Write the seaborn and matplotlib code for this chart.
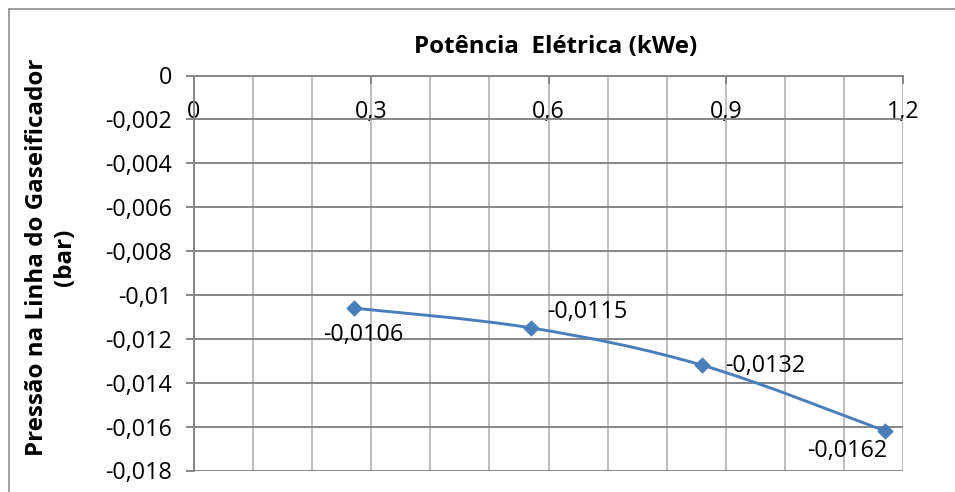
import numpy as np
import matplotlib
matplotlib.use("Agg")
import matplotlib.pyplot as plt
from matplotlib.path import Path
from matplotlib.patches import PathPatch
from matplotlib.lines import Line2D
from matplotlib.ticker import FuncFormatter, MultipleLocator
import seaborn as sns

# Data
potencia_kwe = [0.27, 0.57, 0.86, 1.17]
pressao_bar = [-0.0106, -0.0115, -0.0132, -0.0162]
x_ticks = [0, 0.3, 0.6, 0.9, 1.2]
y_ticks = [0, -0.002, -0.004, -0.006, -0.008, -0.01, -0.012, -0.014, -0.016, -0.018]

titulo = "Potência  Elétrica (kWe)"
rotulo_y = "Pressão na Linha do Gaseificador\n(bar)"

sns.set_theme(style="white")
plt.rcParams["font.family"] = ["Open Sans", "DejaVu Sans"]

BLUE = "#4A7EBB"
GRID_DARK = "#868686"
GRID_LIGHT = "#BEBEBE"
TICK_FS = 16.8
TITLE_FS = 17.4

W, H = 955, 492
fig = plt.figure(figsize=(W / 100, H / 100), dpi=100)
left, right, top, bottom = 194, 903, 75.5, 470.5
ax = fig.add_axes([left / W, (H - bottom) / H, (right - left) / W, (bottom - top) / H])


def virgula(v, _pos=None):
    if abs(v) < 1e-12:
        return "0"
    return f"{v:g}".replace(".", ",")


ax.set_xlim(0, 1.2)
ax.set_ylim(-0.018, 0)
ax.set_xticks(x_ticks)
ax.xaxis.set_minor_locator(MultipleLocator(0.1))
ax.set_yticks(y_ticks)
ax.xaxis.set_major_formatter(FuncFormatter(virgula))
ax.yaxis.set_major_formatter(FuncFormatter(virgula))

# Grid: light vertical lines every 0.1, darker horizontal lines
ax.grid(False)
ax.xaxis.grid(True, which="both", color=GRID_LIGHT, linewidth=1.4)
ax.yaxis.grid(True, which="major", color=GRID_DARK, linewidth=1.4)
ax.set_axisbelow(True)

for side in ["right", "bottom"]:
    ax.spines[side].set_visible(False)
for side in ["left", "top"]:
    ax.spines[side].set_color(GRID_DARK)
    ax.spines[side].set_linewidth(1.4)

# Horizontal axis sits at the top with labels drawn just inside the plot
ax.tick_params(axis="x", which="major", top=True, bottom=False, labeltop=True,
               labelbottom=False, direction="in", length=6, width=1.4,
               color=GRID_DARK, pad=-35, labelsize=TICK_FS, labelcolor="black")
ax.tick_params(axis="x", which="minor", top=False, bottom=False)
ax.tick_params(axis="y", which="major", left=True, direction="out", length=6,
               width=1.4, color=GRID_DARK, pad=10, labelsize=TICK_FS, labelcolor="black")

# Smoothed connecting line (Catmull-Rom as cubic Bezier segments)
pts = np.column_stack([potencia_kwe, pressao_bar])
ext = np.vstack([pts[0], pts, pts[-1]])
verts = [tuple(pts[0])]
codes = [Path.MOVETO]
for i in range(len(pts) - 1):
    p0, p1, p2, p3 = ext[i], ext[i + 1], ext[i + 2], ext[i + 3]
    c1 = p1 + (p2 - p0) / 6.0
    c2 = p2 - (p3 - p1) / 6.0
    verts += [tuple(c1), tuple(c2), tuple(p2)]
    codes += [Path.CURVE4] * 3
ax.add_patch(PathPatch(Path(verts, codes), facecolor="none", edgecolor=BLUE,
                       linewidth=2.1, zorder=3, capstyle="round"))

sns.scatterplot(x=potencia_kwe, y=pressao_bar, marker="D", s=62, color=BLUE,
                edgecolor=BLUE, linewidth=0.5, zorder=4, ax=ax, legend=False)

# Data labels
offsets = [((7, -19.5), "center", "center"),
           ((12, 11.5), "left", "center"),
           ((16.5, -0.5), "left", "center"),
           ((1.5, -14.5), "right", "center")]
for xv, yv, (off, ha, va) in zip(potencia_kwe, pressao_bar, offsets):
    ax.annotate(virgula(yv), (xv, yv), xytext=off, textcoords="offset points",
                ha=ha, va=va, fontsize=TICK_FS, color="black", zorder=5)

fig.text(556 / W, 1 - 47 / H, titulo, ha="center", va="center",
         fontsize=TITLE_FS, fontweight="bold", color="black")
fig.text(51 / W, 1 - 257 / H, rotulo_y, ha="center", va="center", rotation=90,
         fontsize=TITLE_FS, fontweight="bold", color="black", linespacing=1.2,
         multialignment="center")

# Chart frame
fig.add_artist(Line2D([8.5 / W, 8.5 / W], [0, 1 - 9 / H], color="#8C8C8C", linewidth=1.2))
fig.add_artist(Line2D([8.5 / W, 1], [1 - 9 / H, 1 - 9 / H], color="#8C8C8C", linewidth=1.2))

fig.savefig("out.png", dpi=100)
